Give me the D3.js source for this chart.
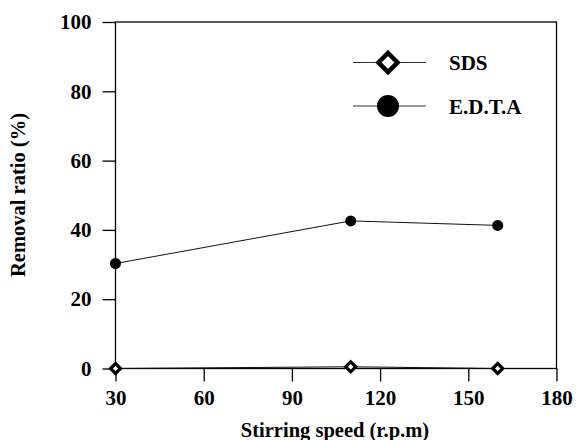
<!DOCTYPE html>
<html>
<head>
<meta charset="utf-8">
<script src="https://cdn.jsdelivr.net/npm/d3@7"></script>
<style>
  body { margin: 0; background: #fff; }
</style>
</head>
<body>
<svg width="578" height="440"></svg>
<script>
const speeds = [30, 110, 160];
const sds = [0, 0.5, 0];
const edta = [30.3, 42.6, 41.3];
const xTicks = [30, 60, 90, 120, 150, 180];
const yTicks = [0, 20, 40, 60, 80, 100];

const FONT = '"Liberation Serif", "Times New Roman", Times, serif';

const svg = d3.select('svg')
  .attr('font-family', FONT)
  .attr('font-weight', 'bold');
const m = {left: 115.5, right: 556.5, top: 22, bottom: 368.5};

const x = d3.scaleLinear().domain([30, 180]).range([m.left, m.right]);
const y = d3.scaleLinear().domain([0, 100]).range([m.bottom, m.top]);

// frame
svg.append('rect')
  .attr('x', m.left).attr('y', m.top)
  .attr('width', m.right - m.left).attr('height', m.bottom - m.top)
  .attr('fill', 'none').attr('stroke', '#000').attr('stroke-width', 1.3);

let xAxis = svg.append('g')
  .attr('transform', `translate(0,${m.bottom})`)
  .call(d3.axisBottom(x).tickValues(xTicks).tickSize(13).tickPadding(9));
let yAxis = svg.append('g')
  .attr('transform', `translate(${m.left},0)`)
  .call(d3.axisLeft(y).tickValues(yTicks).tickSize(13).tickPadding(11));

[xAxis, yAxis].forEach((a) => {
  a.attr('font-family', FONT).attr('font-size', 21).attr('font-weight', 'bold');
  a.select('.domain').remove();
  a.selectAll('line').attr('stroke', '#000').attr('stroke-width', 1.3);
  a.selectAll('text').attr('fill', '#000');
});

// axis titles
svg.append('text')
  .attr('x', 335).attr('y', 437)
  .attr('text-anchor', 'middle')
  .attr('font-size', 20.5)
  .text('Stirring speed (r.p.m)');
svg.append('text')
  .attr('transform', 'translate(25,195) rotate(-90)')
  .attr('text-anchor', 'middle')
  .attr('font-size', 20.5)
  .text('Removal ratio (%)');

const line = d3.line().x((d, i) => x(speeds[i])).y(d => y(d));

svg.append('path').datum(edta)
  .attr('d', line).attr('fill', 'none').attr('stroke', '#111').attr('stroke-width', 1);
svg.append('path').datum(sds)
  .attr('d', line).attr('fill', 'none').attr('stroke', '#111').attr('stroke-width', 1);

// markers
let diamond = (g, cx, cy, r, sw) => {
  g.append('path')
    .attr('d', `M${cx},${cy - r}L${cx + r},${cy}L${cx},${cy + r}L${cx - r},${cy}Z`)
    .attr('fill', '#fff').attr('stroke', '#000').attr('stroke-width', sw);
};

svg.selectAll('.edta')
  .data(edta)
  .enter().append('circle')
    .classed('edta', true)
    .attr('cx', (d, i) => x(speeds[i]))
    .attr('cy', d => y(d))
    .attr('r', 5.5)
    .attr('fill', '#000');

sds.forEach((d, i) => diamond(svg, x(speeds[i]), y(d), 5, 3.2));

// legend
const legend = [
  {name: 'SDS', y: 62.5, type: 'diamond'},
  {name: 'E.D.T.A', y: 106, type: 'circle'}
];
legend.forEach((l) => {
  svg.append('line')
    .attr('x1', 353).attr('x2', 426)
    .attr('y1', l.y).attr('y2', l.y)
    .attr('stroke', '#333').attr('stroke-width', 1);
  if (l.type == 'circle') {
    svg.append('circle').attr('cx', 388).attr('cy', l.y).attr('r', 11).attr('fill', '#000');
  } else {
    diamond(svg, 388, l.y, 9.5, 4.5);
  }
  svg.append('text')
    .attr('x', 449).attr('y', l.y + 7.5)
    .attr('font-size', 21)
    .text(l.name);
});
</script>
</body>
</html>
